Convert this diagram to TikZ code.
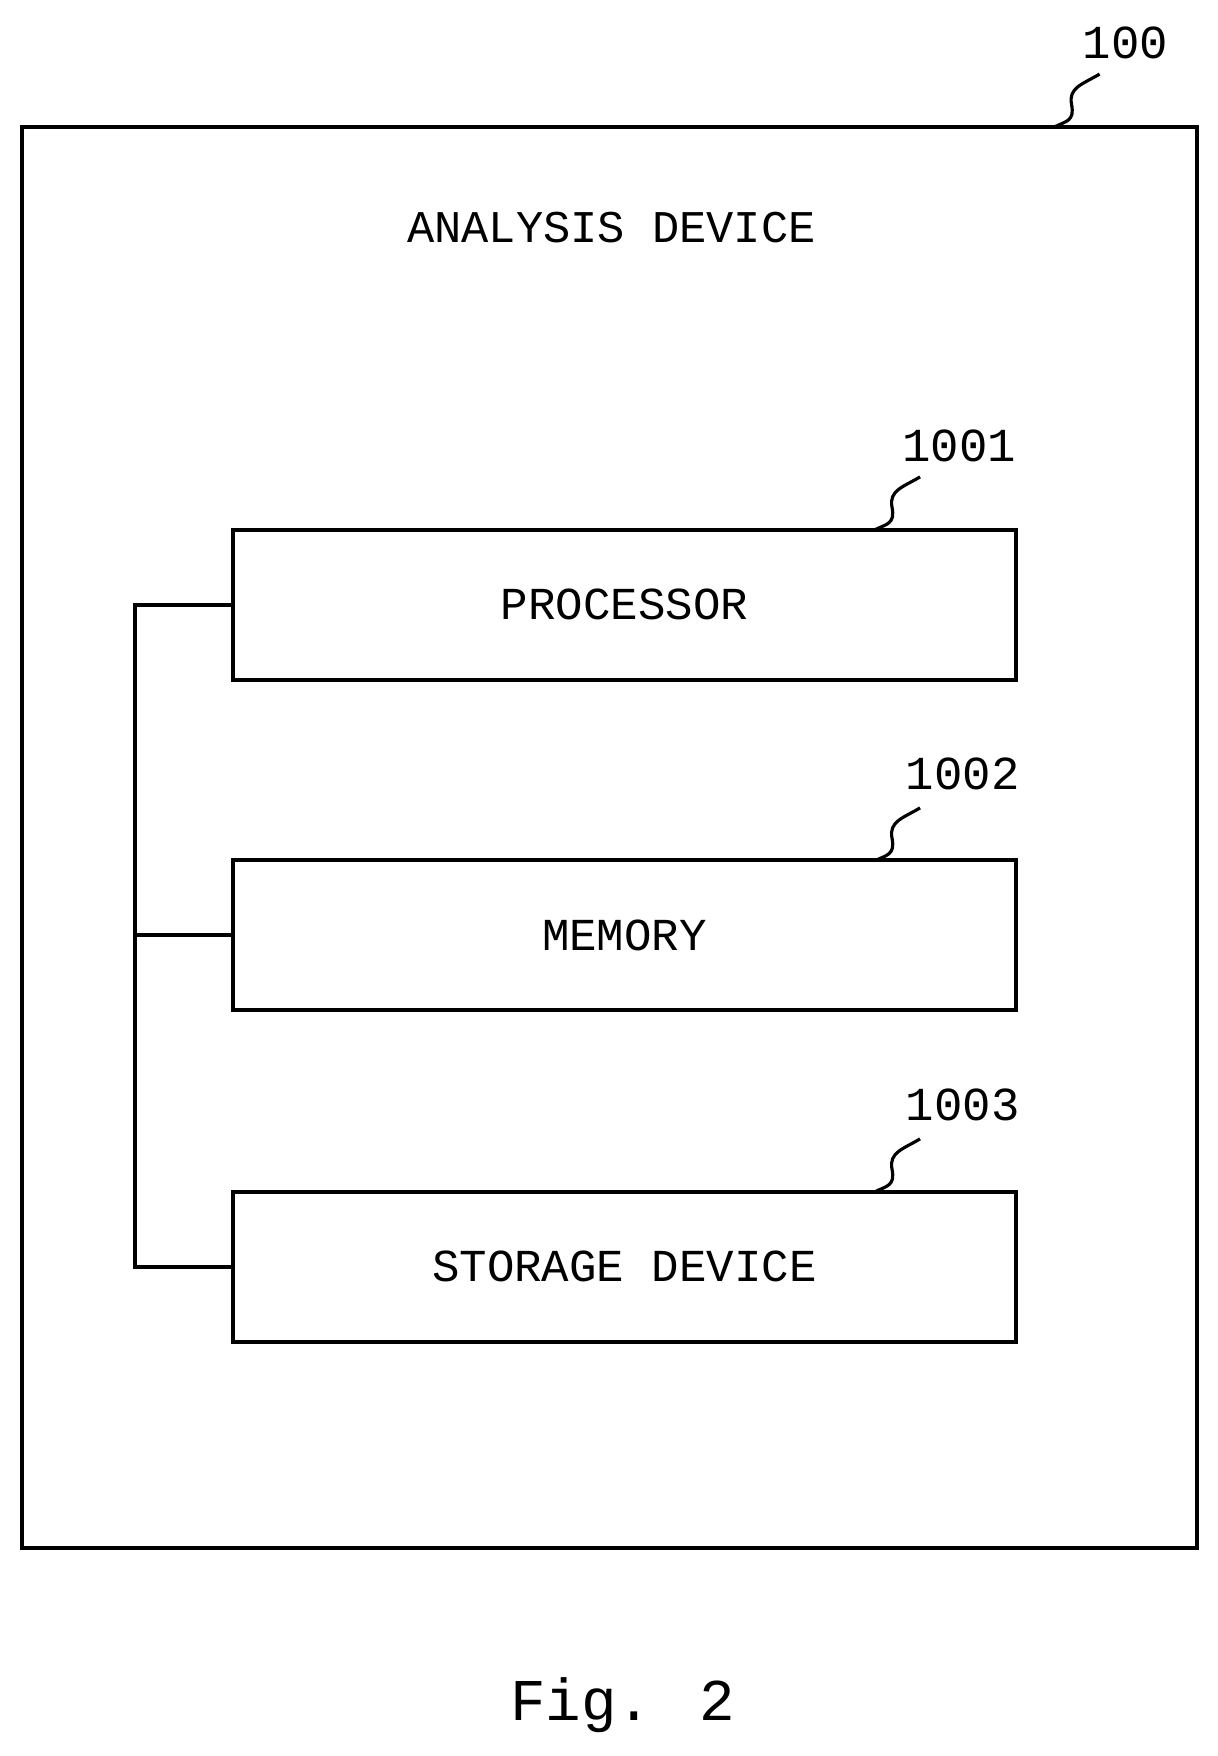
\documentclass[tikz,border=0pt]{standalone}
\usepackage{fontspec}
\setmainfont{Liberation Mono}
\usetikzlibrary{positioning, calc}
\tikzset{
    unit/.style = {draw, line width=1pt, minimum width=6.97cm, minimum height=1.34cm, font=\fontsize{11.6}{14}\selectfont},
    refnum/.style = {font=\fontsize{12}{14}\selectfont},
    pics/leader/.style = {
        code = {%
        \draw[line width=0.8pt] (0,0) .. controls (10,-5) and (18,-5) .. (15,-20)
            .. controls (12,-35) and (25,-38) .. (40,-47);
        }
    },
}
\begin{document}
\begin{tikzpicture}[x=0.01cm, y=-0.01cm, line width=1pt]
\useasboundingbox (0,0) rectangle (1085,1565);
\draw (20,113) rectangle (1067,1380);
\node[font=\fontsize{11.5}{14}\selectfont] (title) at (545,203) {ANALYSIS DEVICE};
\pic at (940,113) {leader};
\node[refnum] (n100) at (1003,38) {100};

\node[unit] (proc) at (556.5,539) {PROCESSOR};
\pic at (780,472) {leader};
\node[refnum] (n1001) at (855,397) {1001};

\node[unit] (mem) at (556.5,833.5) {MEMORY};
\pic at (780,767) {leader};
\node[refnum] (n1002) at (858,690) {1002};

\node[unit] (stor) at (556.5,1129) {STORAGE DEVICE};
\pic at (780,1062) {leader};
\node[refnum] (n1003) at (858,985) {1003};

% bus
\coordinate (bus) at (120,0);
\draw (proc.west) -- (proc.west -| bus) -- (stor.west -| bus) -- (stor.west);
\draw (mem.west -| bus) -- (mem.west);

\node[font=\fontsize{15}{18}\selectfont] (fig) at (555,1520) {Fig. 2};
\end{tikzpicture}
\end{document}
